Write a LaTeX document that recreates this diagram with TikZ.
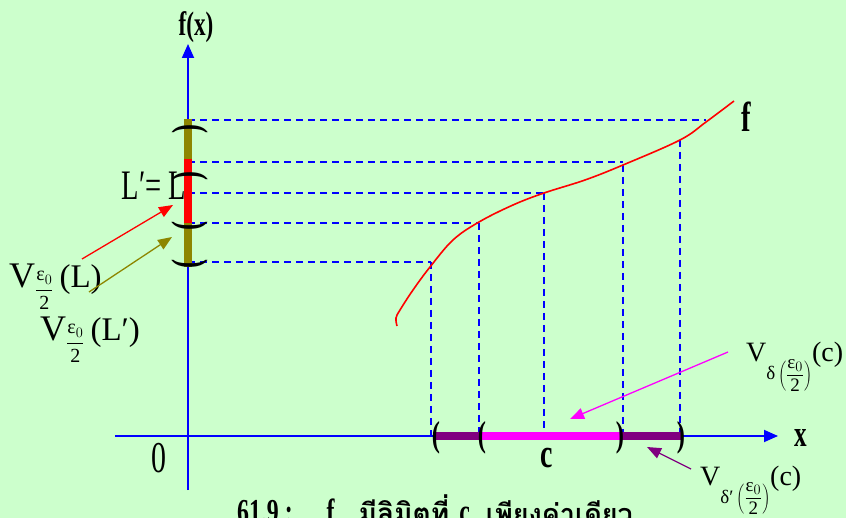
\documentclass[tikz,border=0pt]{standalone}
\usepackage{fontspec}
\setmainfont{Liberation Serif}
\newfontfamily\narrowfont[FakeStretch=0.68]{Liberation Serif}
\newfontfamily\thaifont[Script=Thai]{Loma}
\usetikzlibrary{arrows.meta, positioning}

\definecolor{bggreen}{HTML}{CCFFCC}
\definecolor{purp}{HTML}{800080}
\definecolor{magen}{HTML}{FF00FF}

% lowered subscript of a neighbourhood V
\newcommand{\vsub}[3]{\raisebox{-#1pt}{\fontsize{#2}{#2}\selectfont$\displaystyle #3$}}
\newcommand{\halfeps}{\frac{\mbox{ε}_{0}}{\mbox{2}}}

\begin{document}
\begin{tikzpicture}[
    x=1pt, y=-1pt,
    axisline/.style={draw=blue, line width=1.8pt, -{Triangle[length=14pt, width=12pt]}},
    guide/.style={draw=blue, line width=1.8pt, dash pattern=on 7pt off 5pt},
    nbhd/.style={line width=7.5pt},
    bracket/.style={inner sep=0pt, font=\fontsize{#1}{#1}\narrowfont\bfseries},
    pointer/.style={line width=1.3pt, -{Triangle[length=14pt, width=11pt]}},
    vlabel/.style={inner sep=0pt, anchor=base west, font=\fontsize{#1}{#1}\selectfont},
    glyph/.style={inner sep=0pt, font=\fontsize{#1}{#1}\narrowfont},
    bglyph/.style={inner sep=0pt, font=\fontsize{#1}{#1}\narrowfont\bfseries}
]
    \useasboundingbox (0,0) rectangle (846,518);
    \fill[bggreen] (0,0) rectangle (846,518);

    % dashed guides from the axis to the curve
    \foreach \y/\x in {120/706, 162/623, 193/544, 223/479, 262/431}
        \draw[guide] (188,\y) -- (\x,\y);
    \foreach \x/\y in {680/140, 623/165, 544/193, 479/223, 431/262}
        \draw[guide] (\x,\y) -- (\x,436);

    % axes
    \coordinate (ybot) at (188,490);
    \coordinate (ytop) at (188,44);
    \coordinate (xleft) at (115,436);
    \coordinate (xright) at (778,436);
    \draw[axisline] (ybot) -- (ytop);
    \draw[axisline] (xleft) -- (xright);

    % neighbourhoods
    \draw[nbhd, olive] (188,119) -- (188,267);
    \draw[nbhd, red] (188,159) -- (188,223);
    \draw[nbhd, purp] (433,436) -- (682,436);
    \draw[nbhd, magen] (480,436) -- (620,436);

    \node[bracket=40, rotate=-90] (ya) at (190,129) {(};
    \node[bracket=40, rotate=-90] (yb) at (190,176) {(};
    \node[bracket=40, rotate=90] (yc) at (190,226) {(};
    \node[bracket=40, rotate=90] (yd) at (190,264) {(};
    \node[bracket=36] (xa) at (436,438) {(};
    \node[bracket=36] (xb) at (482,438) {(};
    \node[bracket=36] (xc) at (620,438) {)};
    \node[bracket=36] (xd) at (681,438) {)};

    % the function
    \draw[red, line width=1.6pt] plot[smooth, tension=0.6] coordinates {
        (397,326) (396,318) (400,310) (413,290) (430,267) (453,240) (479,222)
        (513,205) (544,193) (585,180) (623,165) (680,140) (706,122) (734,101)};

    % labels
    \node[bglyph=34] (fx) at (196,27) {f(x)};
    \node[bglyph=42, anchor=base west] (fname) at (741,132) {f};
    \node[bglyph=37] (xname) at (801,438) {x};
    \node[glyph=44] (zero) at (159,458) {0};
    \node[bglyph=41] (cname) at (547,458) {c};
    \node[glyph=42, anchor=base east] (lim) at (186,200) {L′=\,L};

    \node[vlabel=36] (vL) at (9,288) {V\vsub{7}{20}{\halfeps}\,{\fontsize{33}{33}\selectfont(L)}};
    \node[vlabel=36] (vLp) at (40,341) {V\vsub{7}{20}{\halfeps}\,{\fontsize{33}{33}\selectfont(L′)}};
    \node[vlabel=28] (vd) at (746,362) {V\vsub{18}{19}{\mbox{δ}\left(\halfeps\right)}(c)};
    \node[vlabel=28] (vdp) at (700,485) {V\vsub{18}{19}{\mbox{δ′}\left(\halfeps\right)}(c)};

    % pointers
    \coordinate (redtail) at (82,259);
    \coordinate (redtip) at (173,205);
    \coordinate (olivetail) at (89,292);
    \coordinate (olivetip) at (172,237);
    \coordinate (magtail) at (728,352);
    \coordinate (magtip) at (570,419);
    \coordinate (purptail) at (691,469);
    \coordinate (purptip) at (647,447);
    \draw[pointer, red] (redtail) -- (redtip);
    \draw[pointer, olive] (olivetail) -- (olivetip);
    \draw[pointer, magen] (magtail) -- (magtip);
    \draw[pointer, purp] (purptail) -- (purptip);

    % caption
    \node[anchor=base west, inner sep=0pt, font=\fontsize{35}{35}\selectfont\bfseries] (caption) at (237,523)
        {{\narrowfont 61.9 :\hspace{34pt}f}\hspace{24pt}{\fontsize{28}{28}\thaifont มีลิมิตที่}\hspace{10pt}{\narrowfont c}\hspace{16pt}{\fontsize{27}{27}\thaifont เพียงค่าเดียว}};
\end{tikzpicture}
\end{document}
